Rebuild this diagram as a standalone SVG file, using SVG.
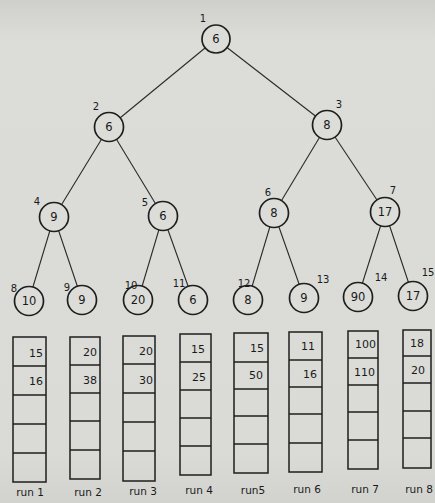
<svg xmlns="http://www.w3.org/2000/svg" width="435" height="503" viewBox="0 0 435 503">
<defs>
<linearGradient id="bg" x1="0" y1="0" x2="0" y2="1">
<stop offset="0" stop-color="#cfd0cc"/>
<stop offset="0.08" stop-color="#dcddd9"/>
<stop offset="0.9" stop-color="#dadbd7"/>
<stop offset="1" stop-color="#d2d3cf"/>
</linearGradient>
</defs>
<style>
.edge{stroke:#2a2a2a;stroke-width:1.1;fill:none}
.node circle{fill:#dcddd9;stroke:#1e1e1e;stroke-width:1.7}
.val{font-family:"DejaVu Sans",sans-serif;font-size:11.5px;fill:#1a1a1a;text-anchor:middle}
.idx{font-family:"DejaVu Sans",sans-serif;font-size:10px;fill:#1a1a1a;text-anchor:middle}
.cell{fill:none;stroke:#1e1e1e;stroke-width:1.5}
.cv{font-family:"DejaVu Sans",sans-serif;font-size:11px;fill:#1a1a1a;text-anchor:end}
.lbl{font-family:"DejaVu Sans",sans-serif;font-size:10.5px;fill:#1a1a1a;text-anchor:middle}
</style>
<rect width="435" height="503" fill="url(#bg)"/>
<g id="connectors">
<line class="edge" x1="216" y1="39" x2="109" y2="127"/>
<line class="edge" x1="216" y1="39" x2="327" y2="125"/>
<line class="edge" x1="109" y1="127" x2="54" y2="217"/>
<line class="edge" x1="109" y1="127" x2="163" y2="216"/>
<line class="edge" x1="327" y1="125" x2="274" y2="213"/>
<line class="edge" x1="327" y1="125" x2="385" y2="212"/>
<line class="edge" x1="54" y1="217" x2="29" y2="300"/>
<line class="edge" x1="54" y1="217" x2="82" y2="300"/>
<line class="edge" x1="163" y1="216" x2="138" y2="300"/>
<line class="edge" x1="163" y1="216" x2="193" y2="300"/>
<line class="edge" x1="274" y1="213" x2="248" y2="300"/>
<line class="edge" x1="274" y1="213" x2="304" y2="298"/>
<line class="edge" x1="385" y1="212" x2="358" y2="297"/>
<line class="edge" x1="385" y1="212" x2="413" y2="296"/>
</g>
<g id="n1" class="node"><circle cx="216" cy="39" r="14"/><text class="val" x="216" y="43">6</text><text class="idx" x="203" y="22">1</text></g>
<g id="n2" class="node"><circle cx="109" cy="127" r="14.5"/><text class="val" x="109" y="131">6</text><text class="idx" x="96" y="110">2</text></g>
<g id="n3" class="node"><circle cx="327" cy="125" r="14.5"/><text class="val" x="327" y="129">8</text><text class="idx" x="339" y="108">3</text></g>
<g id="n4" class="node"><circle cx="54" cy="217" r="14.5"/><text class="val" x="54" y="221">9</text><text class="idx" x="37" y="205">4</text></g>
<g id="n5" class="node"><circle cx="163" cy="216" r="14.5"/><text class="val" x="163" y="220">6</text><text class="idx" x="145" y="206">5</text></g>
<g id="n6" class="node"><circle cx="274" cy="213" r="14.5"/><text class="val" x="274" y="217">8</text><text class="idx" x="268" y="196">6</text></g>
<g id="n7" class="node"><circle cx="385" cy="212" r="14.5"/><text class="val" x="385" y="216">17</text><text class="idx" x="393" y="194">7</text></g>
<g id="n8" class="node"><circle cx="29" cy="301" r="14.5"/><text class="val" x="29" y="305">10</text><text class="idx" x="14" y="292">8</text></g>
<g id="n9" class="node"><circle cx="82" cy="300" r="14.5"/><text class="val" x="82" y="304">9</text><text class="idx" x="67" y="291">9</text></g>
<g id="n10" class="node"><circle cx="138" cy="300" r="14.5"/><text class="val" x="138" y="304">20</text><text class="idx" x="131" y="289">10</text></g>
<g id="n11" class="node"><circle cx="193" cy="300" r="14.5"/><text class="val" x="193" y="304">6</text><text class="idx" x="179" y="287">11</text></g>
<g id="n12" class="node"><circle cx="248" cy="300" r="14.5"/><text class="val" x="248" y="304">8</text><text class="idx" x="244" y="287">12</text></g>
<g id="n13" class="node"><circle cx="304" cy="298" r="14.5"/><text class="val" x="304" y="302">9</text><text class="idx" x="323" y="283">13</text></g>
<g id="n14" class="node"><circle cx="358" cy="297" r="14.5"/><text class="val" x="358" y="301">90</text><text class="idx" x="381" y="281">14</text></g>
<g id="n15" class="node"><circle cx="413" cy="296" r="14.5"/><text class="val" x="413" y="300">17</text><text class="idx" x="428" y="276">15</text></g>
<g id="run1">
<rect class="cell" x="13" y="337" width="33" height="145"/>
<line class="cell" x1="13" y1="366" x2="46" y2="366"/><line class="cell" x1="13" y1="395" x2="46" y2="395"/><line class="cell" x1="13" y1="424" x2="46" y2="424"/><line class="cell" x1="13" y1="453" x2="46" y2="453"/>
<text class="cv" x="43" y="357">15</text><text class="cv" x="43" y="385">16</text>
<text class="lbl" x="30" y="496">run 1</text>
</g>
<g id="run2">
<rect class="cell" x="70" y="337" width="30" height="142"/>
<line class="cell" x1="70" y1="365" x2="100" y2="365"/><line class="cell" x1="70" y1="393" x2="100" y2="393"/><line class="cell" x1="70" y1="421" x2="100" y2="421"/><line class="cell" x1="70" y1="450" x2="100" y2="450"/>
<text class="cv" x="97" y="356">20</text><text class="cv" x="97" y="384">38</text>
<text class="lbl" x="88" y="496">run 2</text>
</g>
<g id="run3">
<rect class="cell" x="123" y="336" width="32" height="145"/>
<line class="cell" x1="123" y1="364" x2="155" y2="364"/><line class="cell" x1="123" y1="393" x2="155" y2="393"/><line class="cell" x1="123" y1="422" x2="155" y2="422"/><line class="cell" x1="123" y1="451" x2="155" y2="451"/>
<text class="cv" x="153" y="355">20</text><text class="cv" x="153" y="384">30</text>
<text class="lbl" x="143" y="495">run 3</text>
</g>
<g id="run4">
<rect class="cell" x="180" y="334" width="31" height="141"/>
<line class="cell" x1="180" y1="362" x2="211" y2="362"/><line class="cell" x1="180" y1="390" x2="211" y2="390"/><line class="cell" x1="180" y1="418" x2="211" y2="418"/><line class="cell" x1="180" y1="446" x2="211" y2="446"/>
<text class="cv" x="205" y="353">15</text><text class="cv" x="206" y="381">25</text>
<text class="lbl" x="199" y="494">run 4</text>
</g>
<g id="run5">
<rect class="cell" x="234" y="333" width="34" height="140"/>
<line class="cell" x1="234" y1="362" x2="268" y2="362"/><line class="cell" x1="234" y1="389" x2="268" y2="389"/><line class="cell" x1="234" y1="416" x2="268" y2="416"/><line class="cell" x1="234" y1="444" x2="268" y2="444"/>
<text class="cv" x="264" y="352">15</text><text class="cv" x="263" y="379">50</text>
<text class="lbl" x="253" y="494">run5</text>
</g>
<g id="run6">
<rect class="cell" x="289" y="332" width="33" height="140"/>
<line class="cell" x1="289" y1="360" x2="322" y2="360"/><line class="cell" x1="289" y1="387" x2="322" y2="387"/><line class="cell" x1="289" y1="414" x2="322" y2="414"/><line class="cell" x1="289" y1="443" x2="322" y2="443"/>
<text class="cv" x="315" y="350">11</text><text class="cv" x="317" y="378">16</text>
<text class="lbl" x="307" y="493">run 6</text>
</g>
<g id="run7">
<rect class="cell" x="348" y="331" width="30" height="138"/>
<line class="cell" x1="348" y1="358" x2="378" y2="358"/><line class="cell" x1="348" y1="385" x2="378" y2="385"/><line class="cell" x1="348" y1="412" x2="378" y2="412"/><line class="cell" x1="348" y1="440" x2="378" y2="440"/>
<text class="cv" x="376" y="348">100</text><text class="cv" x="375" y="376">110</text>
<text class="lbl" x="365" y="493">run 7</text>
</g>
<g id="run8">
<rect class="cell" x="403" y="330" width="28" height="138"/>
<line class="cell" x1="403" y1="356" x2="431" y2="356"/><line class="cell" x1="403" y1="383" x2="431" y2="383"/><line class="cell" x1="403" y1="411" x2="431" y2="411"/><line class="cell" x1="403" y1="438" x2="431" y2="438"/>
<text class="cv" x="424" y="347">18</text><text class="cv" x="425" y="374">20</text>
<text class="lbl" x="419" y="493">run 8</text>
</g>
</svg>
